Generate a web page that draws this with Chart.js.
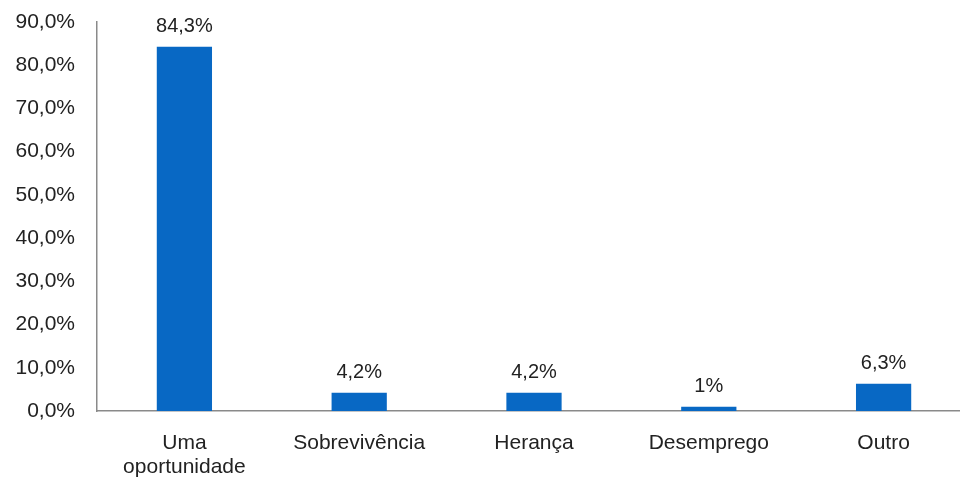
<!DOCTYPE html>
<html>
<head>
<meta charset="utf-8">
<script src="https://cdn.jsdelivr.net/npm/chart.js@4/dist/chart.umd.min.js"></script>
<style>
html,body{margin:0;padding:0;background:#fff;overflow:hidden;width:960px;height:479px;}
#wrap{width:972px;height:479px;position:relative;}
</style>
</head>
<body>
<div id="wrap"><canvas id="c" width="972" height="479"></canvas></div>
<script>
const categories = [["Uma","oportunidade"], "Sobrevivência", "Herança", "Desemprego", "Outro"];
const values = [84.3, 4.2, 4.2, 1, 6.3];
const valueLabels = ["84,3%", "4,2%", "4,2%", "1%", "6,3%"];
const yTicks = [0, 10, 20, 30, 40, 50, 60, 70, 80, 90];

const FONT = "'Liberation Sans', Arial, sans-serif";
const TEXT = '#222';

const valueLabelPlugin = {
  id: 'valueLabels',
  afterDatasetsDraw(chart) {
    const ctx = chart.ctx;
    const meta = chart.getDatasetMeta(0);
    ctx.save();
    ctx.font = '20px ' + FONT;
    ctx.fillStyle = TEXT;
    ctx.textAlign = 'center';
    ctx.textBaseline = 'bottom';
    meta.data.forEach((bar, i) => {
      ctx.fillText(valueLabels[i], bar.x, bar.y - 10);
    });
    ctx.restore();
  }
};

new Chart(document.getElementById('c'), {
  type: 'bar',
  data: {
    labels: categories,
    datasets: [{
      data: values,
      backgroundColor: '#0868c4',
      borderWidth: 0,
      barPercentage: 0.316,
      categoryPercentage: 1.0
    }]
  },
  options: {
    responsive: false,
    animation: false,
    layout: { padding: { top: 22, right: 1, left: 0, bottom: 0 } },
    plugins: { legend: { display: false }, tooltip: { enabled: false } },
    scales: {
      x: {
        grid: { display: false, drawTicks: false },
        border: { display: true, color: '#8a8a8a', width: 1.5 },
        ticks: { color: TEXT, font: { size: 21, family: FONT, lineHeight: 1.15 }, padding: 20, maxRotation: 0, autoSkip: false },
        afterFit(scale) { scale.height = 68; scale.paddingLeft = 0; scale.paddingRight = 0; }
      },
      y: {
        min: 0, max: 90,
        afterBuildTicks(scale) { scale.ticks = yTicks.map(v => ({ value: v })); },
        grid: { display: false, drawTicks: false },
        border: { display: true, color: '#8a8a8a', width: 1.5 },
        ticks: {
          color: TEXT, font: { size: 21, family: FONT }, padding: 22,
          callback: v => v.toFixed(1).replace('.', ',') + '%'
        },
        afterFit(scale) { scale.width = 97; scale.paddingTop = 0; scale.paddingBottom = 0; }
      }
    }
  },
  plugins: [valueLabelPlugin]
});
</script>
</body>
</html>
